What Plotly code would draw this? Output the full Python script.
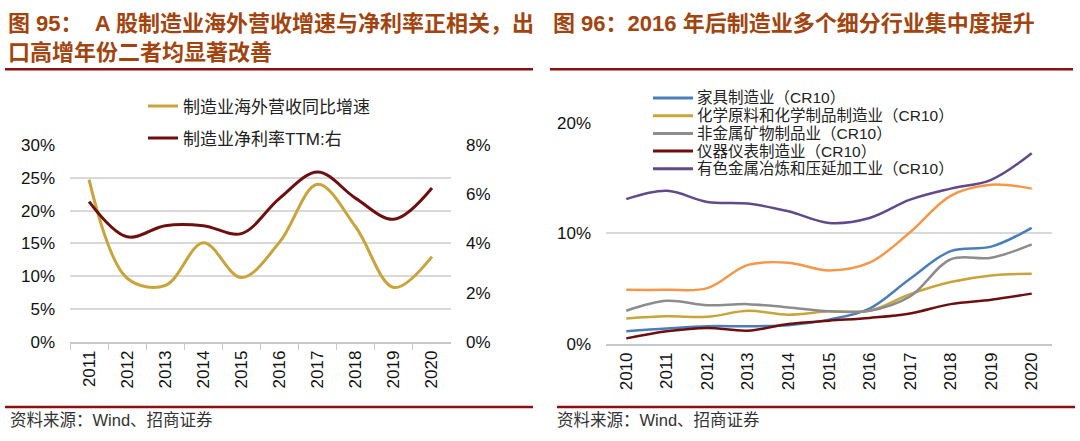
import plotly.graph_objects as go

W, H = 1080, 441

# ---------------- data: left chart ----------------
years_left = ["2011", "2012", "2013", "2014", "2015", "2016", "2017", "2018", "2019", "2020"]
overseas_growth = [24.7, 9.7, 8.6, 15.1, 9.8, 15.2, 24.0, 17.5, 8.3, 13.0]      # left axis, %
net_margin_ttm = [5.7, 4.27, 4.72, 4.72, 4.4, 5.83, 6.9, 5.83, 4.98, 6.25]       # right axis, %
left_names = ["制造业海外营收同比增速", "制造业净利率TTM:右"]
left_ticks_main = [0, 5, 10, 15, 20, 25, 30]
left_ticks_sec = [0, 2, 4, 6, 8]

# ---------------- data: right chart ----------------
years_right = ["2010", "2011", "2012", "2013", "2014", "2015", "2016", "2017", "2018", "2019", "2020"]
furniture = [1.15, 1.4, 1.6, 1.6, 1.7, 2.2, 3.2, 5.9, 8.4, 8.8, 10.5]
chemical = [2.3, 2.5, 2.45, 3.0, 2.65, 2.95, 3.0, 4.5, 5.6, 6.2, 6.35]
nonmetal = [3.0, 3.9, 3.5, 3.6, 3.3, 2.95, 3.0, 4.3, 7.65, 7.8, 9.0]
instrument = [0.5, 1.15, 1.45, 1.2, 1.8, 2.1, 2.35, 2.75, 3.6, 4.0, 4.55]
nonferrous = [13.1, 13.85, 12.85, 12.7, 12.0, 10.95, 11.4, 13.05, 14.05, 14.85, 17.25]
unlabeled = [4.9, 4.9, 5.05, 7.15, 7.35, 6.65, 7.35, 10.1, 13.4, 14.4, 14.05]
right_names = ["家具制造业（CR10）", "化学原料和化学制品制造业（CR10）", "非金属矿物制品业（CR10）",
               "仪器仪表制造业（CR10）", "有色金属冶炼和压延加工业（CR10）"]
right_ticks = [0, 10, 20]

titles = ["图 95：  A 股制造业海外营收增速与净利率正相关，出<br>口高增年份二者均显著改善",
          "图 96：2016 年后制造业多个细分行业集中度提升"]
source_text = "资料来源：Wind、招商证券"

FONT = "Liberation Sans, Arial, Noto Sans CJK SC, sans-serif"
TITLE_COLOR = "#a3440f"
RULE_COLOR = "#8b1111"
GRID = "#d9d9d9"


def px(x):
    return x / W


def py(y):
    return 1 - y / H


def pct(v):
    return [f"{t}%" for t in v]


fig = go.Figure()

# left chart traces
fig.add_trace(go.Scatter(x=years_left, y=overseas_growth, name=left_names[0], mode="lines",
                         line=dict(color="#c9a43a", width=3, shape="spline", smoothing=1),
                         xaxis="x", yaxis="y", legend="legend", legendgroup="a"))
fig.add_trace(go.Scatter(x=years_left, y=net_margin_ttm, name=left_names[1], mode="lines",
                         line=dict(color="#6e0f0f", width=3, shape="spline", smoothing=1),
                         xaxis="x", yaxis="y2", legend="legend", legendgroup="b"))

# right chart traces
right_series = [furniture, chemical, nonmetal, instrument, nonferrous]
right_colors = ["#4a7ebb", "#c9a43a", "#8c8c8c", "#6e0f0f", "#5f4b8b"]
fig.add_trace(go.Scatter(x=years_right, y=unlabeled, name="", mode="lines", showlegend=False,
                         line=dict(color="#f79646", width=2.5, shape="spline", smoothing=1),
                         xaxis="x3", yaxis="y3"))
for vals, nm, col in zip(right_series, right_names, right_colors):
    fig.add_trace(go.Scatter(x=years_right, y=vals, name=nm, mode="lines", showlegend=False,
                             line=dict(color=col, width=2.5, shape="spline", smoothing=1),
                             xaxis="x3", yaxis="y3"))

tickfont = dict(family=FONT, size=17, color="#111111")

fig.update_layout(
    width=W, height=H,
    margin=dict(l=0, r=0, t=0, b=0),
    paper_bgcolor="white", plot_bgcolor="white",
    font=dict(family=FONT, color="#111111"),
    xaxis=dict(domain=[px(70), px(451)], type="category", range=[-0.5, 9.5],
               showline=True, linecolor="#c8c8c8", linewidth=1.5,
               ticks="outside", tickson="boundaries", ticklen=6, tickcolor="#c8c8c8",
               tickangle=-90, tickfont=tickfont, showgrid=False, anchor="y"),
    yaxis=dict(domain=[py(348), py(142)], range=[0, 30], tickvals=left_ticks_main,
               ticktext=pct(left_ticks_main), showgrid=True, gridcolor=GRID, gridwidth=1.5,
               zeroline=False, tickfont=tickfont, ticklabelstandoff=14, anchor="x"),
    yaxis2=dict(overlaying="y", side="right", range=[0, 8], tickvals=left_ticks_sec,
                ticktext=pct(left_ticks_sec), showgrid=False, zeroline=False, tickfont=tickfont,
                ticklabelstandoff=14, anchor="x"),
    xaxis3=dict(domain=[px(606), px(1052)], type="category", range=[-0.5, 10.5],
                showline=True, linecolor="#c8c8c8", linewidth=1.5, ticks="",
                tickangle=-90, tickfont=tickfont, showgrid=False, anchor="y3"),
    yaxis3=dict(domain=[py(350), py(119)], range=[0, 20], tickvals=right_ticks,
                ticktext=pct(right_ticks), showgrid=True, gridcolor=GRID, gridwidth=1.5,
                zeroline=False, tickfont=tickfont, ticklabelstandoff=14, anchor="x3"),
    legend=dict(x=px(143), y=py(83), xanchor="left", yanchor="top",
                bgcolor="rgba(0,0,0,0)", tracegroupgap=7, traceorder="grouped",
                font=dict(family=FONT, size=17, color="#222222")),
)

annotations = [
    dict(text="<b>" + titles[0] + "</b>", x=px(6), y=py(0), xref="paper", yref="paper",
         xanchor="left", yanchor="top", align="left", showarrow=False,
         font=dict(family=FONT, size=22, color=TITLE_COLOR)),
    dict(text="<b>" + titles[1] + "</b>", x=px(551), y=py(0), xref="paper", yref="paper",
         xanchor="left", yanchor="top", align="left", showarrow=False,
         font=dict(family=FONT, size=22, color=TITLE_COLOR)),
    dict(text=source_text, x=px(8), y=py(430), xref="paper", yref="paper",
         xanchor="left", yanchor="middle", showarrow=False,
         font=dict(family=FONT, size=16.5, color="#333333")),
    dict(text=source_text, x=px(555), y=py(430), xref="paper", yref="paper",
         xanchor="left", yanchor="middle", showarrow=False,
         font=dict(family=FONT, size=16.5, color="#333333")),
]

shapes = []
for (x0, x1) in [(5, 533), (550, 1073)]:
    shapes.append(dict(type="line", xref="paper", yref="paper", x0=px(x0), x1=px(x1),
                       y0=py(63), y1=py(63), line=dict(color=RULE_COLOR, width=2.5)))
for (x0, x1) in [(5, 533), (557, 1075)]:
    shapes.append(dict(type="line", xref="paper", yref="paper", x0=px(x0), x1=px(x1),
                       y0=py(416), y1=py(416), line=dict(color=RULE_COLOR, width=2.5)))

# legend of the right-hand chart (series names + colours from the lists above)
row_y = [93, 111.5, 130, 148.5, 167]
for nm, col, ry in zip(right_names, right_colors, row_y):
    shapes.append(dict(type="line", xref="paper", yref="paper", x0=px(653), x1=px(693),
                       y0=py(ry), y1=py(ry), line=dict(color=col, width=3)))
    annotations.append(dict(text=nm, x=px(695), y=py(ry), xref="paper", yref="paper",
                            xanchor="left", yanchor="middle", showarrow=False,
                            font=dict(family=FONT, size=15.5, color="#222222")))

fig.update_layout(annotations=annotations, shapes=shapes)

fig.write_html("out.html", config={"displayModeBar": False},
               post_script="document.body.style.margin='0';")
